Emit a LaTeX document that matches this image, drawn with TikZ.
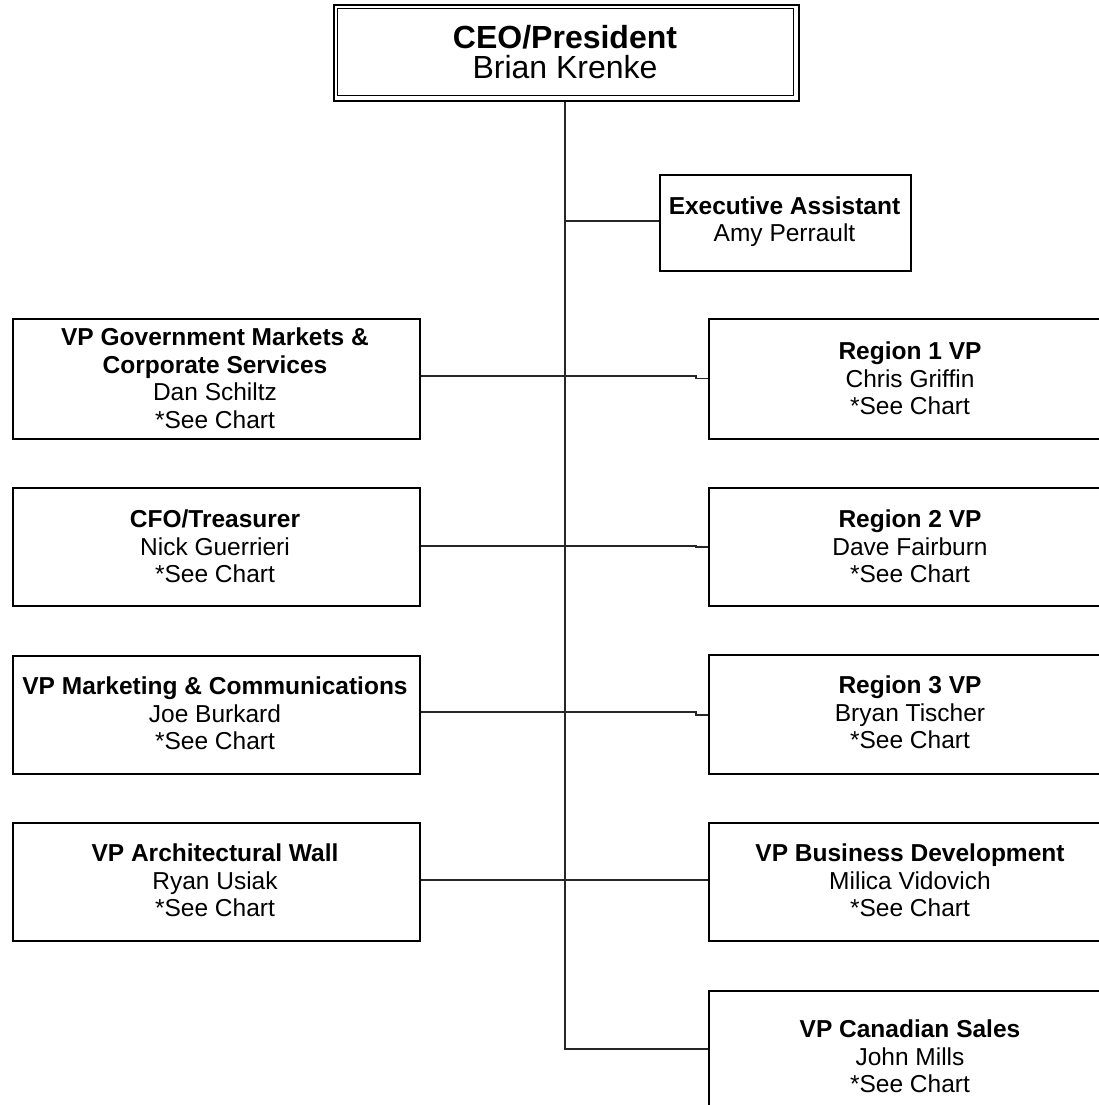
\documentclass[tikz,border=0pt]{standalone}
\usepackage{fontspec}
\setmainfont{Liberation Sans}
\begin{document}
\begin{tikzpicture}[x=1pt,y=-1pt,
  box/.style={draw=black,line width=2pt,rectangle,inner sep=0pt,anchor=north west},
  conn/.style={draw=black!85,line width=1.8pt},
  hd/.style={anchor=base,inner sep=0pt,font=\fontsize{24.5}{28}\selectfont\bfseries},
  tx/.style={anchor=base,inner sep=0pt,font=\fontsize{24.5}{28}\selectfont},
  bighd/.style={anchor=base,inner sep=0pt,font=\fontsize{32}{36}\selectfont\bfseries},
  bigtx/.style={anchor=base,inner sep=0pt,font=\fontsize{32}{36}\selectfont}]
\useasboundingbox (0,0) rectangle (1099,1105);
\fill[white] (0,0) rectangle (1099,1105);
% CEO
\node[box,minimum width=465pt,minimum height=96pt] (ceo) at (333,4) {};
\draw[line width=1.4pt] (337.5,8.5) rectangle (793.5,95.5);
\node[bighd] (ceoa) at (565,49) {CEO/President};
\node[bigtx] (ceob) at (565,79) {Brian Krenke};
% Executive assistant
\node[box,minimum width=251pt,minimum height=96pt] (ea) at (659,174) {};
\node[hd] (eaa) at (784.5,214) {Executive Assistant};
\node[tx] (eab) at (784.5,241) {Amy Perrault};
% left column
\node[box,minimum width=407pt,minimum height=120pt] (l1) at (12,318) {};
\node[hd] (l1a) at (215,345) {VP Government Markets \&};
\node[hd] (l1b) at (215,373) {Corporate Services};
\node[tx] (l1c) at (215,400) {Dan Schiltz};
\node[tx] (l1d) at (215,428) {*See Chart};
\node[box,minimum width=407pt,minimum height=118pt] (l2) at (12,487) {};
\node[hd] (l2a) at (215,527) {CFO/Treasurer};
\node[tx] (l2b) at (215,555) {Nick Guerrieri};
\node[tx] (l2c) at (215,582) {*See Chart};
\node[box,minimum width=407pt,minimum height=118pt] (l3) at (12,655) {};
\node[hd] (l3a) at (215,694) {VP Marketing \& Communications};
\node[tx] (l3b) at (215,722) {Joe Burkard};
\node[tx] (l3c) at (215,749) {*See Chart};
\node[box,minimum width=407pt,minimum height=118pt] (l4) at (12,822) {};
\node[hd] (l4a) at (215,861) {VP Architectural Wall};
\node[tx] (l4b) at (215,889) {Ryan Usiak};
\node[tx] (l4c) at (215,916) {*See Chart};
% right column
\node[box,minimum width=405pt,minimum height=120pt] (r1) at (708,318) {};
\node[hd] (r1a) at (910,359) {Region 1 VP};
\node[tx] (r1b) at (910,387) {Chris Griffin};
\node[tx] (r1c) at (910,414) {*See Chart};
\node[box,minimum width=405pt,minimum height=118pt] (r2) at (708,487) {};
\node[hd] (r2a) at (910,527) {Region 2 VP};
\node[tx] (r2b) at (910,555) {Dave Fairburn};
\node[tx] (r2c) at (910,582) {*See Chart};
\node[box,minimum width=405pt,minimum height=119pt] (r3) at (708,654) {};
\node[hd] (r3a) at (910,693) {Region 3 VP};
\node[tx] (r3b) at (910,721) {Bryan Tischer};
\node[tx] (r3c) at (910,748) {*See Chart};
\node[box,minimum width=405pt,minimum height=118pt] (r4) at (708,822) {};
\node[hd] (r4a) at (910,861) {VP Business Development};
\node[tx] (r4b) at (910,889) {Milica Vidovich};
\node[tx] (r4c) at (910,916) {*See Chart};
\node[box,minimum width=405pt,minimum height=140pt] (r5) at (708,990) {};
\node[hd] (r5a) at (910,1037) {VP Canadian Sales};
\node[tx] (r5b) at (910,1065) {John Mills};
\node[tx] (r5c) at (910,1092) {*See Chart};
% connectors
\coordinate (trunkend) at (565,1049);
\draw[conn] (ceo.south -| trunkend) -- (trunkend) -- (trunkend -| r5.west);
\draw[conn] (565,221) -- (565,221 -| ea.west);
\draw[conn] (l1.east |- 0,376) -- (696,376) -- (696,378.5) -- (r1.west |- 0,378.5);
\draw[conn] (l2.east |- 0,546) -- (696,546) -- (696,547) -- (r2.west |- 0,547);
\draw[conn] (l3.east |- 0,712) -- (696,712) -- (696,715) -- (r3.west |- 0,715);
\draw[conn] (l4.east |- 0,880) -- (r4.west |- 0,880);
\end{tikzpicture}
\end{document}
